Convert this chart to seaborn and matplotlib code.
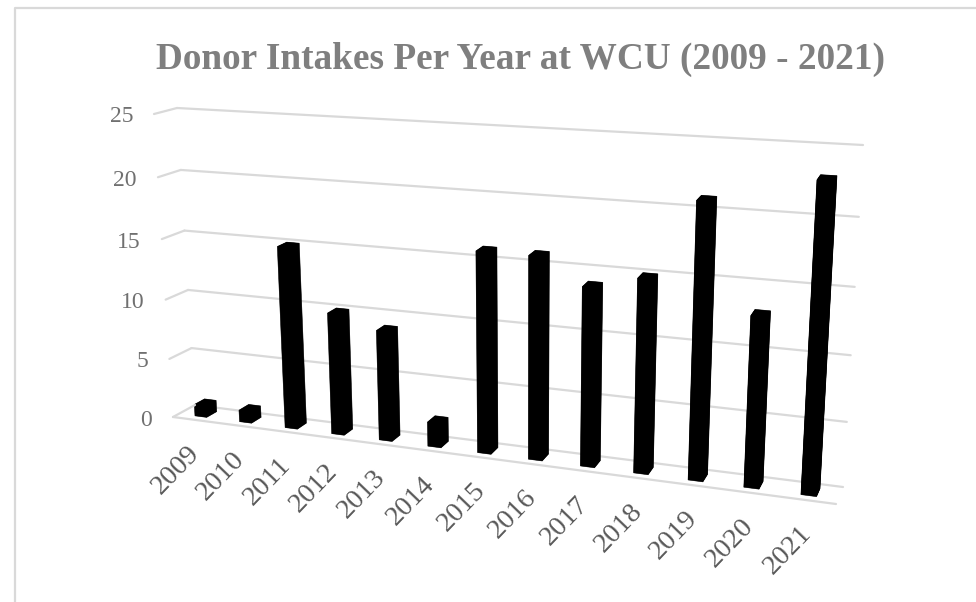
import matplotlib.pyplot as plt
import numpy as np
import pandas as pd
import seaborn as sns
from matplotlib.lines import Line2D
from matplotlib.transforms import Transform

# Data
years = ["2009", "2010", "2011", "2012", "2013", "2014", "2015",
         "2016", "2017", "2018", "2019", "2020", "2021"]
intakes = [1, 1, 15, 10, 9, 2, 16, 16, 14, 15, 21, 13, 23]
y_ticks = [0, 5, 10, 15, 20, 25]

data = pd.DataFrame({"year": years, "intakes": intakes})

W, H = 976, 602
X0, X1 = -0.5, len(years) - 0.5
Y0, Y1 = 0, y_ticks[-1]

# Corners of the fake 3D box, in reference pixels: bl, br, tr, tl
FRONT = np.array([(173, 417), (836, 504), (856, 156), (154, 114)], float)
BACK = np.array([(195, 405), (843, 487), (863, 145), (177, 108)], float)


class Wall(Transform):
    """Perspective map from data coords to pixels, depth 0 = front, 1 = back"""
    input_dims = 2
    output_dims = 2
    is_separable = False
    has_inverse = False

    def __init__(self, depth):
        super().__init__()
        quad = FRONT + (BACK - FRONT) * depth
        src = [(X0, Y0), (X1, Y0), (X1, Y1), (X0, Y1)]
        rows, rhs = [], []
        for (u, v), (px, py) in zip(src, quad):
            rows.append([u, v, 1, 0, 0, 0, -u * px, -v * px])
            rows.append([0, 0, 0, u, v, 1, -u * py, -v * py])
            rhs += [px, py]
        self.h = np.append(np.linalg.solve(rows, rhs), 1).reshape(3, 3)

    def transform_non_affine(self, values):
        values = np.asarray(values, float)
        pts = np.column_stack([values, np.ones(len(values))]) @ self.h.T
        px = pts[:, 0] / pts[:, 2]
        py = pts[:, 1] / pts[:, 2]
        return np.column_stack([px, H - py])


sns.set_theme(style="white")
plt.rcParams["font.family"] = "Liberation Serif"

fig = plt.figure(figsize=(W / 100, H / 100), dpi=100)
ax = fig.add_axes([0, 0, 1, 1])

front = Wall(0)
back = Wall(1)

# Walls and floor
grid = "#d9d9d9"
for tick in y_ticks:
    ax.add_line(Line2D([X0, X1], [tick, tick], color=grid, lw=1.6, transform=back, zorder=1))
    p0 = front.transform([(X0, tick)])[0]
    p1 = back.transform([(X0, tick)])[0]
    fig.add_artist(Line2D([p0[0] / W, p1[0] / W], [p0[1] / H, p1[1] / H], color=grid, lw=1.6))
ax.add_line(Line2D([X0, X1], [0, 0], color=grid, lw=1.6, transform=front, zorder=1))

# Sweep the bars through the depth of the box to get the solid look
for depth in np.linspace(0.27, 0.73, 14):
    n = len(ax.patches)
    sns.barplot(data=data, x="year", y="intakes", color="black", saturation=1,
                width=0.27, linewidth=0.4, edgecolor="black", ax=ax, zorder=3)
    wall = Wall(depth)
    for bar in ax.patches[n:]:
        bar.set_transform(wall)
        bar.set_clip_on(False)

ax.axis("off")

# Labels
for i, year in enumerate(years):
    ax.annotate(year, xy=(i, 0), xycoords=front, xytext=(-19, -50),
                textcoords="offset pixels", rotation=46, ha="center", va="center",
                fontsize=20.5, color="#595959", annotation_clip=False)
for tick in y_ticks:
    ax.annotate(str(tick), xy=(X0, tick), xycoords=front, xytext=(-21, -3),
                textcoords="offset pixels", ha="right", va="center",
                fontsize=17, color="#707070", annotation_clip=False)

fig.text(521 / W, 1 - 59 / H, "Donor Intakes Per Year at WCU (2009 - 2021)",
         ha="center", va="center", fontsize=26.8, weight="bold", color="#7f7f7f")

# Chart frame
fig.add_artist(Line2D([15 / W, 15 / W, 1], [0, 1 - 8 / H, 1 - 8 / H], color=grid, lw=1.6))

plt.savefig("out.png", dpi=100)
plt.close()
